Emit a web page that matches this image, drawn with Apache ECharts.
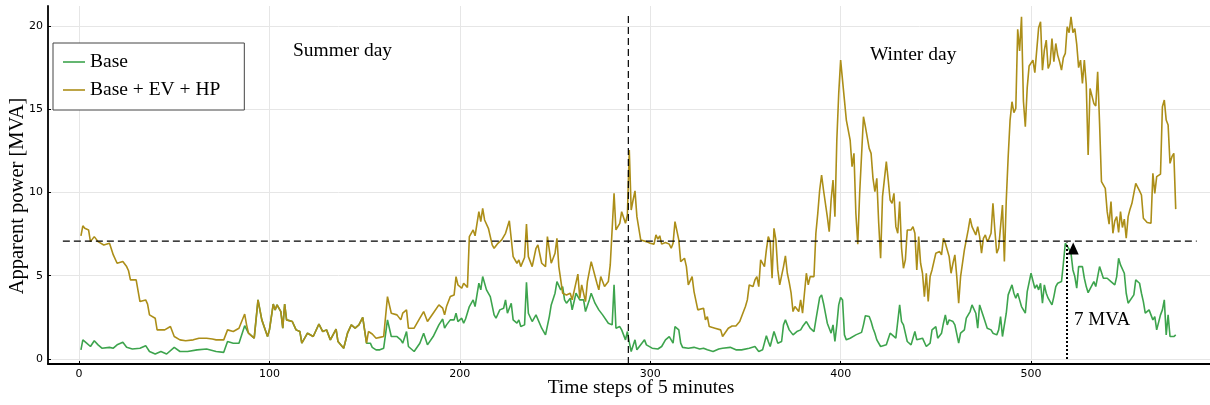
<!DOCTYPE html>
<html>
<head>
<meta charset="utf-8">
<script src="https://cdn.jsdelivr.net/npm/echarts@6/dist/echarts.min.js"></script>
<style>html,body{margin:0;padding:0;background:#fff}#c{width:1210px;height:405px}</style>
</head>
<body>
<div id="c"></div>
<script>
// ---------- data: [time step, apparent power MVA] ----------
const xTicks = [0, 100, 200, 300, 400, 500];
const yTicks = [0, 5, 10, 15, 20];
const threshold = 7.08;          // MVA, dashed horizontal line
const thresholdSpan = [-8.5, 587];
const dayBoundary = 288.5;       // dashed vertical line between the two days
const dayBoundaryTop = 20.76;
const arrowStep = 519;
const arrowValue = 7.0;

const totalSummer = [[1,7.4],[2,8.0],[3,7.85],[5,7.75],[6,7.05],[8,7.35],[10,7.05],[13,6.85],[16,6.95],[17,6.9],[18,6.25],[19,6.2],[20,5.75],[23,5.85],[25,5.55],[26,5.3],[27,4.75],[30,4.75],[31,4.7],[32,3.45],[35,3.55],[36,3.3],[37,2.65],[40,2.45],[41,1.75],[45,1.75],[48,1.95],[49,2.05],[50,1.35],[53,1.15],[56,1.1],[60,1.15],[63,1.25],[67,1.25],[70,1.2],[72,1.15],[76,1.15],[78,1.75],[81,1.65],[84,1.85],[87,2.7],[88,2.05],[89,1.55],[92,1.25],[93,1.2],[94,3.55],[95,3.45],[96,2.35],[97,2.35],[99,1.35],[100,1.75],[102,3.3],[103,2.95],[104,3.25],[106,2.85],[107,1.85],[108,3.3],[109,2.35],[112,2.25],[114,1.75],[116,1.65],[117,0.95],[120,1.55],[123,1.35],[126,2.1],[128,1.65],[130,1.75],[132,1.15],[135,1.8],[136,1.05],[139,0.65],[141,1.55],[143,2.05],[145,1.85],[147,2.05],[149,2.5],[151,0.95],[152,1.65],[154,1.5],[156,1.25],[158,1.3],[160,1.35],[162,3.75],[164,2.75],[167,2.65],[169,2.35],[170,2.75],[172,2.95],[173,1.85],[176,1.85],[177,1.75],[179,2.45],[181,2.85],[183,2.25],[186,2.75],[189,3.25],[191,3.05],[192,2.65],[193,3.15],[195,3.75],[197,3.85],[198,4.95],[199,4.45],[201,4.25],[202,4.55],[203,4.45],[204,4.3],[205,7.35],[206,7.45],[207,7.75],[208,7.4],[210,8.85],[211,8.25],[212,9.05],[213,8.35],[215,7.85],[217,6.85],[218,6.65],[220,6.95],[222,7.15],[224,7.55],[226,8.3],[227,8.25],[228,6.15],[230,5.75],[231,5.95],[232,5.55],[234,6.1],[235,8.1],[236,6.15],[238,5.55],[240,6.65],[241,6.85],[243,5.75],[245,5.55],[246,7.35],[248,5.75],[250,6.35],[251,7.25],[252,5.55],[254,3.95],[256,3.85],[258,3.95],[259,3.55],[260,3.65],[262,5.1],[263,3.65],[264,4.45],[266,3.45],[267,4.65],[269,5.85],[270,5.85],[272,4.55],[273,4.15],[274,4.95],[276,4.35],[278,4.65],[279,5.65],[280,5.75],[281,9.95],[282,7.75],[284,8.15],[285,8.85],[287,8.15],[288,8.65]];

const totalWinter = [[289,12.55],[290,8.95],[291,9.55],[292,10.1],[293,8.55],[295,7.15],[296,7.25],[298,7.05],[300,6.95],[302,6.9],[303,7.45],[304,7.2],[305,7.4],[306,6.9],[308,7.0],[310,6.9],[311,6.65],[312,6.95],[313,8.25],[314,8.3],[315,7.15],[316,5.85],[317,5.75],[318,6.05],[319,5.55],[320,4.45],[321,4.45],[322,4.95],[323,4.05],[325,2.95],[326,3.05],[328,3.05],[329,2.35],[330,2.55],[331,1.95],[334,1.85],[337,1.75],[338,1.35],[339,1.35],[341,1.85],[343,1.98],[345,1.98],[347,2.25],[348,2.35],[350,3.15],[351,3.55],[352,4.45],[354,4.35],[355,4.75],[356,4.95],[357,4.35],[358,5.95],[359,5.85],[360,5.55],[361,6.55],[362,7.35],[363,7.05],[364,4.85],[365,7.85],[366,7.15],[367,5.35],[368,4.45],[370,5.55],[371,6.2],[372,5.15],[373,4.6],[374,3.95],[375,2.85],[376,3.15],[378,2.85],[379,3.55],[380,2.75],[381,3.95],[382,5.15],[383,4.45],[384,4.95],[386,4.95],[387,7.55],[388,8.75],[389,10.15],[390,11.05],[391,10.15],[393,8.55],[394,7.65],[395,9.55],[396,10.75],[397,8.55],[398,13.15],[399,15.95],[400,17.95],[401,18.05],[402,15.55],[403,14.35],[405,13.15],[406,11.55],[407,12.35],[408,8.75],[409,6.9],[410,9.95],[412,14.55],[413,13.95],[415,12.65],[416,12.35],[417,10.85],[418,10.05],[419,10.85],[420,8.15],[421,6.05],[422,9.75],[424,11.85],[425,10.75],[426,9.55],[427,9.35],[428,9.95],[429,7.95],[430,7.55],[431,9.45],[432,6.65],[433,5.45],[434,5.95],[435,7.75],[437,7.75],[438,7.95],[439,7.55],[440,5.35],[441,7.35],[442,5.75],[443,5.15],[444,3.75],[445,5.15],[446,3.45],[447,4.95],[448,5.35],[450,6.35],[451,6.25],[452,6.45],[453,6.25],[454,7.25],[455,6.95],[457,6.15],[458,5.15],[459,5.75],[460,6.25],[461,4.95],[462,3.35],[463,4.95],[464,5.05],[465,6.55],[467,7.75],[468,8.45],[469,7.95],[470,7.85],[471,7.45],[472,7.95],[473,7.35],[474,6.35],[475,7.25],[476,7.45],[477,7.05],[478,7.25],[479,7.55],[480,9.35],[481,7.75],[482,6.35],[483,6.65],[484,7.95],[485,9.25],[486,5.85],[487,9.55],[488,12.15],[489,14.35],[490,15.45],[491,14.8],[492,15.05],[493,19.8],[494,18.5],[495,20.55],[496,15.5],[497,13.95],[498,16.3],[499,17.6],[500,17.6],[501,17.95],[502,17.2],[503,17.1],[504,19.9],[505,20.25],[506,17.35],[507,18.55],[508,19.15],[509,17.45],[510,17.75],[511,19.25],[512,17.85],[513,18.95],[514,18.25],[515,17.85],[516,17.35],[517,18.1],[518,18.35],[519,19.95],[520,19.6],[521,20.55],[522,19.6],[523,19.85],[524,18.9],[525,17.5],[526,17.95],[527,16.55],[528,17.95],[529,16.5],[530,12.25],[531,16.25],[532,15.8],[533,15.35],[534,15.2],[535,17.25],[536,14.15],[537,10.65],[538,10.65],[539,10.25],[540,8.85],[541,8.1],[542,9.45],[543,7.55],[544,8.3],[545,8.55],[546,7.6],[547,8.85],[548,7.9],[549,8.4],[550,7.25],[551,8.55],[552,9.0],[553,9.35],[555,10.55],[557,10.1],[558,9.85],[559,8.45],[561,8.2],[563,8.15],[564,11.15],[565,9.95],[566,10.95],[568,11.1],[569,15.15],[570,15.55],[571,14.35],[572,14.05],[573,11.75],[574,12.15],[575,12.35],[576,9.0]];

const baseSummer = [[1,0.55],[2,1.15],[4,0.95],[6,0.75],[8,1.1],[10,0.85],[12,0.65],[16,0.7],[18,0.65],[20,0.85],[23,1.0],[25,0.7],[28,0.6],[32,0.65],[35,0.8],[37,0.45],[40,0.3],[43,0.45],[46,0.3],[50,0.7],[53,0.45],[57,0.45],[62,0.55],[67,0.6],[72,0.45],[76,0.4],[78,1.05],[81,0.95],[84,0.95],[87,2.0],[88,2.05],[89,1.55],[92,1.25],[93,1.2],[94,3.55],[95,3.45],[96,2.35],[97,2.35],[99,1.35],[100,1.75],[102,3.3],[103,2.95],[104,3.25],[106,2.85],[107,1.85],[108,3.3],[109,2.35],[112,2.25],[114,1.75],[116,1.65],[117,0.95],[120,1.55],[123,1.35],[126,2.1],[128,1.65],[130,1.75],[132,1.15],[135,1.8],[136,1.05],[139,0.65],[141,1.55],[143,2.05],[145,1.85],[147,2.05],[149,2.5],[151,0.95],[153,0.95],[154,0.7],[156,0.55],[158,0.55],[160,0.65],[162,2.35],[164,1.35],[167,1.35],[169,1.15],[170,0.95],[172,1.65],[173,0.75],[176,0.45],[177,0.38],[179,0.95],[181,1.55],[183,0.85],[186,1.35],[189,2.05],[191,2.4],[192,1.85],[193,2.05],[195,2.35],[197,2.35],[198,2.75],[199,2.25],[201,2.45],[202,2.15],[203,2.4],[204,2.35],[205,3.15],[206,3.25],[207,3.55],[208,3.15],[210,4.55],[211,4.15],[212,4.95],[214,4.15],[216,3.75],[218,2.65],[219,2.45],[221,2.95],[223,3.05],[224,3.55],[225,2.75],[227,3.35],[228,2.35],[230,2.15],[231,2.35],[232,1.95],[234,2.05],[235,4.6],[236,2.75],[238,2.25],[240,2.65],[241,2.75],[243,1.85],[245,1.45],[247,2.55],[248,3.25],[250,3.95],[251,4.65],[253,4.15],[254,4.35],[255,3.55],[256,3.35],[258,3.65],[259,2.95],[260,2.85],[261,3.95],[263,3.55],[265,3.55],[266,2.85],[268,3.55],[269,3.95],[271,3.35],[273,2.95],[275,2.65],[276,2.75],[278,2.15],[280,2.05],[281,4.45],[282,1.85],[284,1.95],[285,1.75],[287,1.15],[288,1.65]];

const baseWinter = [[289,1.0],[290,0.45],[292,1.15],[293,0.55],[295,0.85],[297,1.15],[298,0.85],[301,0.65],[304,0.6],[306,0.75],[308,1.15],[310,1.35],[311,1.15],[312,0.95],[313,1.95],[315,1.75],[316,0.95],[317,0.7],[320,0.65],[323,0.7],[324,0.75],[326,0.6],[328,0.65],[330,0.55],[333,0.45],[336,0.6],[338,0.65],[342,0.7],[345,0.55],[348,0.55],[352,0.65],[353,0.75],[355,0.75],[357,0.45],[359,0.55],[361,1.4],[362,1.05],[363,0.75],[365,1.65],[366,1.3],[367,0.95],[369,1.05],[370,2.05],[371,2.35],[372,2.3],[373,1.75],[375,1.45],[377,1.65],[379,1.75],[380,1.95],[382,2.25],[383,2.3],[384,1.85],[386,1.65],[387,2.35],[389,3.7],[390,3.85],[391,3.35],[393,2.15],[394,1.85],[395,1.55],[396,2.05],[397,1.05],[398,2.05],[399,3.25],[400,3.7],[401,3.55],[402,1.45],[403,1.15],[405,1.25],[406,1.15],[408,1.45],[409,1.55],[411,1.6],[412,2.05],[413,2.6],[415,2.55],[416,2.25],[417,1.85],[418,1.55],[419,1.15],[421,0.75],[422,0.65],[424,0.85],[426,1.55],[427,1.55],[429,1.25],[430,1.15],[431,3.25],[432,2.25],[433,2.05],[435,1.05],[437,0.85],[439,1.65],[440,1.15],[441,1.2],[443,1.25],[445,0.75],[447,0.95],[448,1.75],[450,1.95],[451,1.25],[453,1.55],[454,2.15],[455,2.65],[456,2.05],[457,2.35],[459,2.25],[460,2.05],[462,0.95],[463,1.55],[465,1.75],[466,2.45],[468,2.85],[469,3.25],[471,2.75],[472,1.85],[473,3.25],[474,3.15],[475,2.55],[477,1.85],[479,1.75],[480,1.55],[482,1.45],[483,1.75],[484,2.55],[485,1.35],[486,2.05],[487,2.75],[488,3.85],[489,4.15],[490,4.45],[491,3.95],[492,3.65],[493,3.95],[494,3.55],[495,3.15],[497,2.75],[498,4.05],[499,3.95],[500,5.15],[501,5.05],[502,4.25],[503,4.45],[504,4.15],[505,4.55],[506,3.35],[507,4.45],[508,3.95],[509,3.65],[510,3.55],[511,3.25],[512,3.75],[513,4.35],[514,4.55],[516,4.65],[517,5.75],[518,6.95],[519,6.85],[520,6.6],[521,6.35],[522,5.35],[523,4.95],[524,4.25],[525,5.55],[526,5.45],[527,5.55],[528,4.85],[529,4.35],[530,3.98],[531,4.05],[533,4.65],[534,4.35],[535,4.95],[536,5.55],[538,4.85],[539,4.75],[540,4.85],[542,4.65],[543,4.75],[544,4.45],[545,4.95],[546,6.05],[547,5.65],[549,5.15],[550,3.95],[551,3.35],[552,3.25],[554,3.85],[555,4.75],[557,4.55],[558,3.95],[559,3.45],[560,2.75],[561,2.85],[562,2.95],[564,2.35],[565,2.55],[566,1.75],[567,1.85],[568,2.65],[569,2.95],[570,3.55],[571,1.45],[572,2.65],[573,1.35],[574,1.3],[575,1.35],[576,1.45]];

// ---------- chart ----------
const SERIF = 'Liberation Serif';
const GREEN = '#3da44d', GOLD = '#ac8e18';
const chart = echarts.init(document.getElementById('c'), null, {renderer: 'canvas'});

chart.setOption({
  animation: false,
  backgroundColor: '#fff',
  grid: {left: 48, right: 0, top: 6, bottom: 41, containLabel: false},
  xAxis: {
    type: 'value', min: -16.3, max: 594,
    axisLine: {show: true, onZero: false, lineStyle: {color: '#000', width: 1.8}},
    axisTick: {show: true, inside: true, length: 3, customValues: xTicks, lineStyle: {color: '#000', width: 1}},
    axisLabel: {customValues: xTicks, color: '#000', fontFamily: 'DejaVu Sans', fontSize: 11, margin: 5},
    splitLine: {show: true, lineStyle: {color: '#e6e6e6', width: 1}}
  },
  yAxis: {
    type: 'value', min: -0.3, max: 21.2,
    axisLine: {show: true, onZero: false, lineStyle: {color: '#000', width: 1.8}},
    axisTick: {show: true, inside: true, length: 3, customValues: yTicks, lineStyle: {color: '#000', width: 1}},
    axisLabel: {customValues: yTicks, color: '#000', fontFamily: 'DejaVu Sans', fontSize: 11, margin: 5},
    splitLine: {show: true, lineStyle: {color: '#e6e6e6', width: 1}}
  },
  legend: {
    orient: 'vertical', left: 53, top: 43,
    padding: [9, 24, 10, 10],
    icon: 'rect', itemWidth: 22, itemHeight: 1.6, itemGap: 8,
    borderColor: '#444', borderWidth: 1, backgroundColor: '#fff',
    textStyle: {fontFamily: SERIF, fontSize: 19.5, color: '#000', lineHeight: 14},
    data: ['Base', 'Base + EV + HP']
  },
  series: [
    {name: 'Base', type: 'line', data: baseSummer.concat(baseWinter), symbol: 'none',
     lineStyle: {color: GREEN, width: 1.6}, itemStyle: {color: GREEN}, z: 2},
    {name: 'Base + EV + HP', type: 'line', data: totalSummer.concat(totalWinter), symbol: 'none',
     lineStyle: {color: GOLD, width: 1.6}, itemStyle: {color: GOLD}, z: 3},
    {name: 'threshold', type: 'line', symbol: 'none', silent: true, z: 4,
     data: thresholdSpan.map(s => [s, threshold]),
     lineStyle: {color: '#000', width: 1.2, type: [7, 4]},
     markLine: {
       silent: true, animation: false, symbol: ['none', 'triangle'], symbolSize: [11, 12],
       symbolOffset: [0, 6],
       label: {show: false},
       lineStyle: {color: '#000', width: 2, type: [2, 2]},
       data: [[{coord: [arrowStep, 0]}, {coord: [arrowStep, arrowValue]}]]
     }},
    {name: 'boundary', type: 'line', symbol: 'none', silent: true, z: 4,
     data: [[dayBoundary, -0.3], [dayBoundary, dayBoundaryTop]],
     lineStyle: {color: '#000', width: 1.2, type: [7, 4]}}
  ],
  graphic: [
    {type: 'text', left: 293, top: 41, style: {text: 'Summer day', font: '19.5px "Liberation Serif"', fill: '#000'}},
    {type: 'text', left: 870, top: 45, style: {text: 'Winter day', font: '19.5px "Liberation Serif"', fill: '#000'}},
    {type: 'text', left: 1074, top: 311, style: {text: '7 MVA', font: '19px "Liberation Serif"', fill: '#000'}},
    {type: 'text', x: 641, y: 388, style: {text: 'Time steps of 5 minutes', font: '19.5px "Liberation Serif"', fill: '#000', textAlign: 'center', textVerticalAlign: 'middle'}},
    {type: 'text', x: 18, y: 196, rotation: Math.PI / 2, style: {text: 'Apparent power [MVA]', font: '20.5px "Liberation Serif"', fill: '#000', textAlign: 'center', textVerticalAlign: 'middle'}}
  ]
});
</script>
</body>
</html>
